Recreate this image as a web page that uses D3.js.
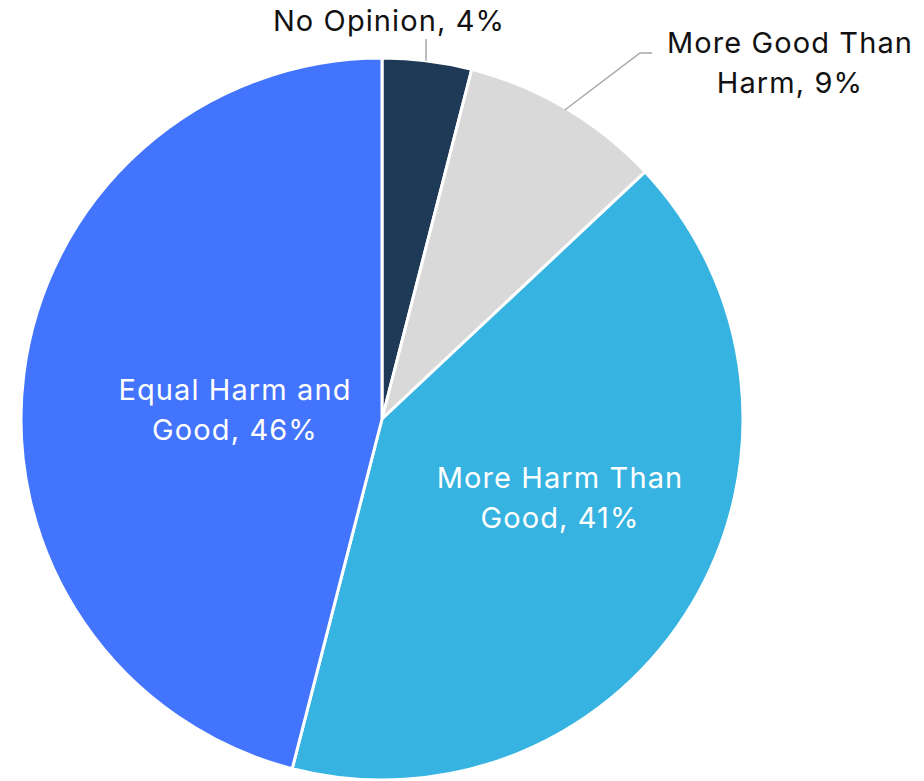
<!DOCTYPE html>
<html>
<head>
<meta charset="utf-8">
<script src="https://cdn.jsdelivr.net/npm/d3@7"></script>
<style>
  html, body { margin: 0; padding: 0; background: #ffffff; }
  svg { display: block; }
  text { font-family: Inter, "Noto Sans", sans-serif; }
</style>
</head>
<body>
<svg id="chart" width="924" height="781"></svg>
<script>
const categories = ["No Opinion", "More Good Than Harm", "More Harm Than Good", "Equal Harm and Good"];
const values = [4, 9, 41, 46];
const labelLines = [["No Opinion, 4%"], ["More Good Than", "Harm, 9%"], ["More Harm Than", "Good, 41%"], ["Equal Harm and", "Good, 46%"]];
const colors = ["#1e3a56", "#d9d9d9", "#36b3e0", "#4374fe"];

const W = 924, H = 781;
const cx = 382, cy = 419, R = 361;
const svg = d3.select("#chart");
const g = svg.append("g").attr("transform", `translate(${cx},${cy})`);

const data = categories.map((c, i) => ({ cat: c, value: values[i], lines: labelLines[i], color: colors[i] }));
const pie = d3.pie().value(d => d.value).sort(null);
const arcs = pie(data);
const arc = d3.arc().innerRadius(0).outerRadius(R);

g.selectAll("path.slice").data(arcs).enter().append("path")
  .attr("class", "slice")
  .attr("d", arc)
  .attr("fill", d => d.data.color)
  .attr("stroke", "#ffffff")
  .attr("stroke-width", 3)
  .attr("stroke-linejoin", "round");

const fs = 29, lh = 40;
const layout = {
  0: { x: 389 - cx, y: 31 - cy, anchor: [426 - cx, 39 - cy], elbow: null, color: "#111" },
  1: { x: 790 - cx, y: 53 - cy, anchor: [652 - cx, 53 - cy], elbow: [640 - cx, 53 - cy], color: "#111" },
  2: { x: 560 - cx, y: 488 - cy, color: "#fff" },
  3: { x: 235 - cx, y: 400 - cy, color: "#fff" }
};

arcs.forEach((a, i) => {
  const L = layout[i];
  const t = g.append("text")
    .attr("text-anchor", "middle")
    .attr("font-size", fs)
    .attr("letter-spacing", 1.1)
    .attr("fill", L.color);
  a.data.lines.forEach((ln, j) => {
    t.append("tspan").attr("x", L.x).attr("y", L.y + j * lh).text(ln);
  });
  if (L.anchor) {
    let edge;
    if (i === 0) {
      edge = [L.anchor[0], -Math.sqrt(R * R - L.anchor[0] * L.anchor[0])];
    } else {
      const ang = a.startAngle + (a.endAngle - a.startAngle) * 0.5;
      edge = [Math.sin(ang) * (R - 2), -Math.cos(ang) * (R - 2)];
    }
    const pts = L.elbow ? [edge, L.elbow, L.anchor] : [edge, L.anchor];
    g.append("path")
      .attr("d", d3.line()(pts))
      .attr("fill", "none")
      .attr("stroke", "#a6a6a6")
      .attr("stroke-width", 1.5);
  }
});
</script>
</body>
</html>
